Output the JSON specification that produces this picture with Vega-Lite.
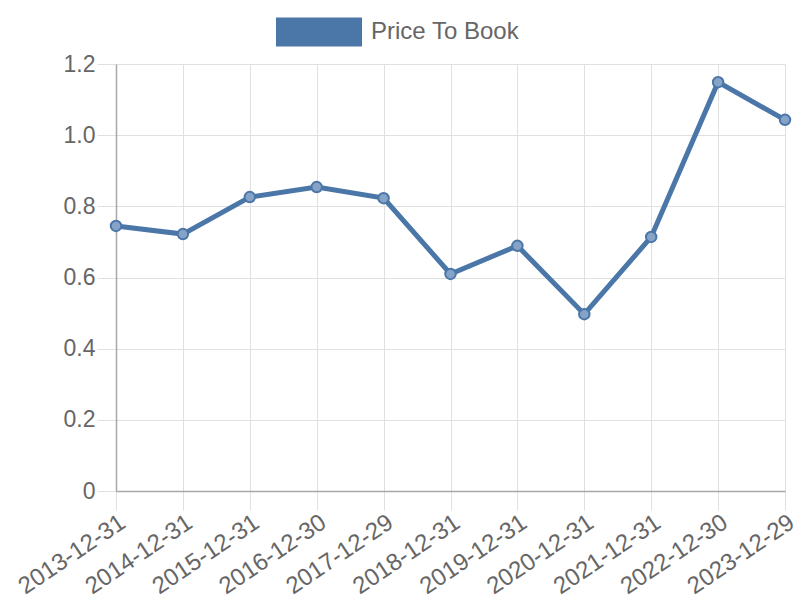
{
  "$schema": "https://vega.github.io/schema/vega-lite/v6.json",
  "width": 669,
  "height": 427,
  "autosize": "none",
  "padding": {"left": 116, "top": 64, "right": 15, "bottom": 109},
  "background": "white",
  "config": {
    "view": {"stroke": null},
    "font": "Liberation Sans",
    "axis": {
      "labelFont": "Liberation Sans",
      "labelFontSize": 23,
      "labelColor": "#666666",
      "gridColor": "#e0e0e0",
      "gridWidth": 1,
      "tickColor": "#e0e0e0",
      "tickSize": 19,
      "domainColor": "#a8a8a8",
      "domainWidth": 1.5,
      "title": null
    }
  },
  "data": {
    "values": [
      {"date": "2013-12-31", "value": 0.745, "series": "Price To Book"},
      {"date": "2014-12-31", "value": 0.722, "series": "Price To Book"},
      {"date": "2015-12-31", "value": 0.826, "series": "Price To Book"},
      {"date": "2016-12-30", "value": 0.854, "series": "Price To Book"},
      {"date": "2017-12-29", "value": 0.823, "series": "Price To Book"},
      {"date": "2018-12-31", "value": 0.610, "series": "Price To Book"},
      {"date": "2019-12-31", "value": 0.689, "series": "Price To Book"},
      {"date": "2020-12-31", "value": 0.497, "series": "Price To Book"},
      {"date": "2021-12-31", "value": 0.714, "series": "Price To Book"},
      {"date": "2022-12-30", "value": 1.149, "series": "Price To Book"},
      {"date": "2023-12-29", "value": 1.043, "series": "Price To Book"}
    ]
  },
  "encoding": {
    "x": {
      "field": "date",
      "type": "ordinal",
      "scale": {"type": "point", "padding": 0},
      "axis": {"labelAngle": -34, "grid": true, "labelPadding": 0, "labelFontSize": 24, "labelAlign": "right", "labelBaseline": "top"}
    },
    "y": {
      "field": "value",
      "type": "quantitative",
      "scale": {"domain": [0, 1.2], "nice": false},
      "axis": {
        "values": [0, 0.2, 0.4, 0.6, 0.8, 1.0, 1.2],
        "labelExpr": "datum.value == 0 ? '0' : format(datum.value, '.1f')",
        "grid": true,
        "labelPadding": 2
      }
    }
  },
  "layer": [
    {
      "mark": {"type": "line", "strokeWidth": 5, "color": "#4a76a8"},
      "encoding": {
        "color": {
          "field": "series",
          "type": "nominal",
          "scale": {"range": ["#4a76a8"]},
          "legend": {
            "title": null,
            "orient": "none",
            "legendX": 160,
            "legendY": -75,
            "padding": 0,
            "symbolType": "M-1,-0.337H1V0.337H-1Z",
            "symbolSize": 7396,
            "symbolStrokeWidth": 0,
            "labelFontSize": 24,
            "labelColor": "#666666",
            "labelFont": "Liberation Sans",
            "labelOffset": 9,
            "encode": {
              "symbols": {"update": {"fill": {"value": "#4a76a8"}, "stroke": {"value": "#4a76a8"}, "strokeWidth": {"value": 0}, "opacity": {"value": 1}}}
            }
          }
        }
      }
    },
    {
      "mark": {"type": "point", "filled": true, "size": 110, "fill": "#85a3c6", "fillOpacity": 1, "stroke": "#4a76a8", "strokeWidth": 2, "opacity": 1}
    }
  ]
}
